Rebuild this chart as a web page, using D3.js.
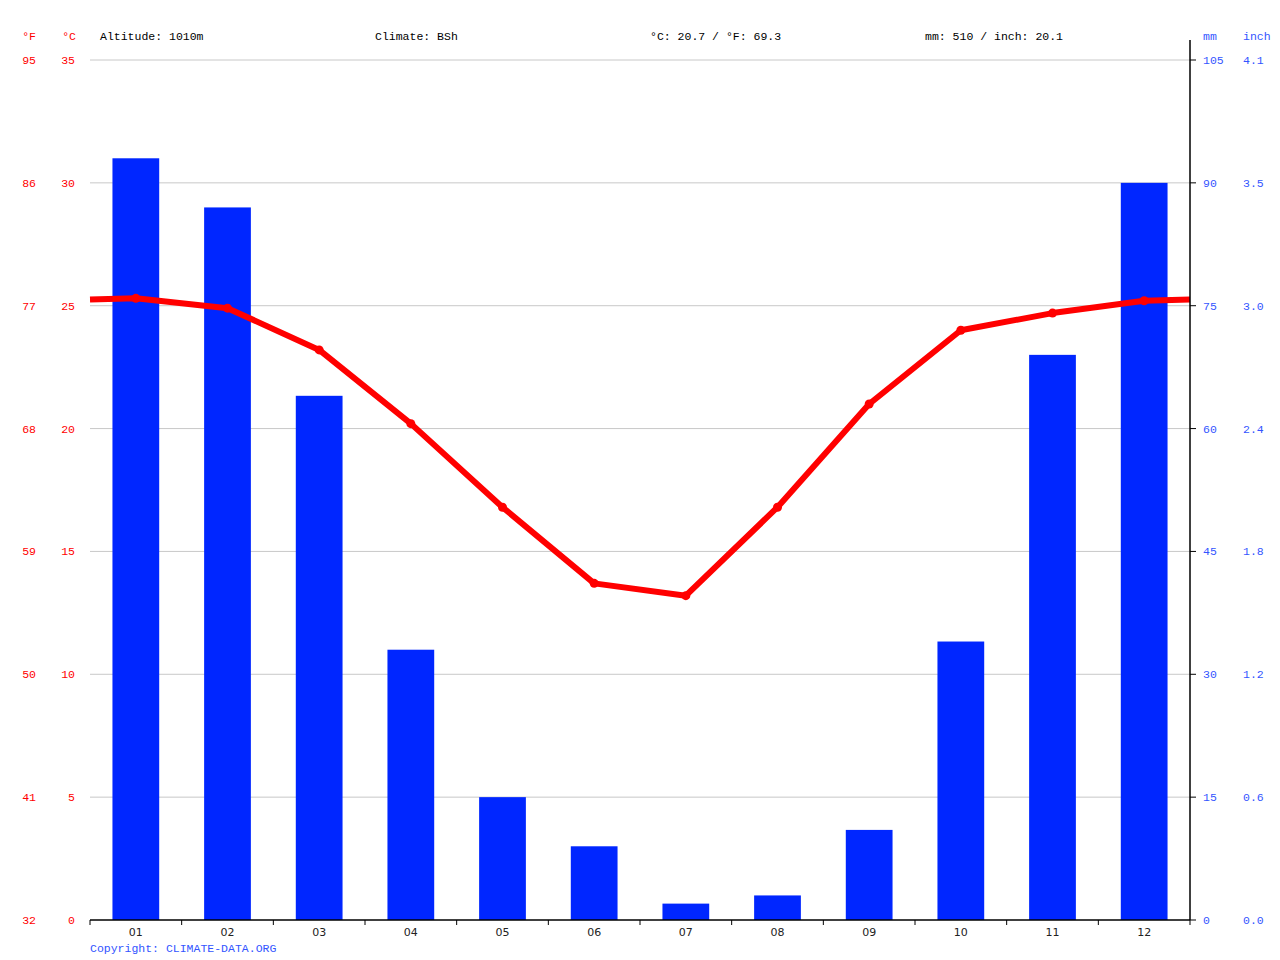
<!DOCTYPE html>
<html>
<head>
<meta charset="utf-8">
<script src="https://cdn.jsdelivr.net/npm/d3@7"></script>
<style>
  body { margin: 0; background: #fff; }
  text { font-family: "Liberation Mono", "DejaVu Sans Mono", monospace; }
</style>
</head>
<body>
<script>
// chart data
var months = ["01", "02", "03", "04", "05", "06", "07", "08", "09", "10", "11", "12"];
var precipMm = [93, 87, 64, 33, 15, 9, 2, 3, 11, 34, 69, 90];
var tempC = [25.3, 24.9, 23.2, 20.2, 16.8, 13.7, 13.2, 16.8, 21.0, 24.0, 24.7, 25.2];
var celsiusTicks = [0, 5, 10, 15, 20, 25, 30, 35];
var fahrenheitTicks = ["32", "41", "50", "59", "68", "77", "86", "95"];
var mmTicks = [0, 15, 30, 45, 60, 75, 90, 105];
var inchTicks = ["0.0", "0.6", "1.2", "1.8", "2.4", "3.0", "3.5", "4.1"];
var headerTexts = ["Altitude: 1010m", "Climate: BSh", "°C: 20.7 / °F: 69.3", "mm: 510 / inch: 20.1"];

var margin = { top: 60, right: 90, bottom: 40, left: 90 };
var width = 1280 - margin.left - margin.right;
var height = 960 - margin.top - margin.bottom;

var red = "#ff0000", blue = "#0026ff", textBlue = "#3355ff";

var svg = d3.select("body").append("svg")
    .attr("width", 1280)
    .attr("height", 960);

var g = svg.append("g")
    .attr("transform", "translate(" + margin.left + "," + margin.top + ")");

// scales
var x = d3.scaleBand().domain(months).range([0, width]).paddingInner(0.49).paddingOuter(0.245);
var xc = d3.scaleBand().domain(months).range([0, width]);
var yT = d3.scaleLinear().domain([0, 35]).range([height, 0]);
var yP = d3.scaleLinear().domain([0, 105]).range([height, 0]);

// gridlines
g.append("g")
  .selectAll("line")
  .data(celsiusTicks.slice(1))
  .enter()
  .append("line")
  .attr("x1", 0)
  .attr("x2", width)
  .attr("y1", function(d) { return yT(d); })
  .attr("y2", function(d) { return yT(d); })
  .attr("stroke", "#c8c8c8")
  .attr("stroke-width", 1);

// bars
g.append("g")
  .selectAll("rect")
  .data(precipMm)
  .enter()
  .append("rect")
  .attr("x", function(d, i) { return x(months[i]); })
  .attr("width", x.bandwidth())
  .attr("y", function(d) { return yP(d); })
  .attr("height", function(d) { return height - yP(d); })
  .attr("fill", blue);

// temperature line, wrapped to both edges
var edgeTemp = (tempC[0] + tempC[11]) / 2;
var linePts = [[0, edgeTemp]];
tempC.forEach(function(t, i) {
  linePts.push([xc(months[i]) + xc.bandwidth() / 2, t]);
});
linePts.push([width, edgeTemp]);

var lineFunction = d3.line()
  .x(function(d) { return d[0]; })
  .y(function(d) { return yT(d[1]); });

g.append("path")
  .attr("d", lineFunction(linePts))
  .attr("fill", "none")
  .attr("stroke", red)
  .attr("stroke-width", 6)
  .attr("stroke-linejoin", "round");

g.append("g")
  .selectAll("circle")
  .data(tempC)
  .enter()
  .append("circle")
  .attr("cx", function(d, i) { return xc(months[i]) + xc.bandwidth() / 2; })
  .attr("cy", function(d) { return yT(d); })
  .attr("r", 4.5)
  .attr("fill", red);

// bottom axis
var bottom = g.append("g")
  .attr("transform", "translate(0," + height + ")");

bottom.append("line")
  .attr("x1", 0).attr("x2", width)
  .attr("stroke", "#000").attr("stroke-width", 1.5);

bottom.selectAll(".tk")
  .data(d3.range(months.length + 1))
  .enter()
  .append("line")
  .attr("x1", function(i) { return i * xc.bandwidth(); })
  .attr("x2", function(i) { return i * xc.bandwidth(); })
  .attr("y1", 0).attr("y2", 5)
  .attr("stroke", "#000");

bottom.selectAll(".lbl")
  .data(months)
  .enter()
  .append("text")
  .attr("x", function(d) { return xc(d) + xc.bandwidth() / 2; })
  .attr("y", 16)
  .attr("text-anchor", "middle")
  .style("font-family", "'DejaVu Sans', sans-serif")
  .style("font-size", "11px")
  .attr("fill", "#222")
  .text(function(d) { return d; });

// right axis line and ticks
g.append("line")
  .attr("x1", width).attr("x2", width)
  .attr("y1", -20).attr("y2", height)
  .attr("stroke", "#000").attr("stroke-width", 1.5);

g.append("g")
  .selectAll("line")
  .data(mmTicks)
  .enter()
  .append("line")
  .attr("x1", width).attr("x2", width + 6)
  .attr("y1", function(d) { return yP(d); })
  .attr("y2", function(d) { return yP(d); })
  .attr("stroke", "#000");

// axis labels
var fs = "11.5px";

g.append("g").selectAll("text")
  .data(fahrenheitTicks)
  .enter().append("text")
  .attr("x", -54).attr("y", function(d, i) { return yT(celsiusTicks[i]) + 4; })
  .attr("text-anchor", "end").attr("fill", red).style("font-size", fs)
  .text(function(d) { return d; });

g.append("g").selectAll("text")
  .data(celsiusTicks)
  .enter().append("text")
  .attr("x", -15).attr("y", function(d) { return yT(d) + 4; })
  .attr("text-anchor", "end").attr("fill", red).style("font-size", fs)
  .text(function(d) { return d; });

g.append("g").selectAll("text")
  .data(mmTicks)
  .enter().append("text")
  .attr("x", width + 13).attr("y", function(d) { return yP(d) + 4; })
  .attr("fill", textBlue).style("font-size", fs)
  .text(function(d) { return d; });

g.append("g").selectAll("text")
  .data(inchTicks)
  .enter().append("text")
  .attr("x", width + 53).attr("y", function(d, i) { return yP(mmTicks[i]) + 4; })
  .attr("fill", textBlue).style("font-size", fs)
  .text(function(d) { return d; });

// unit headers
svg.append("text").attr("x", 36).attr("y", 40).attr("text-anchor", "end")
  .attr("fill", red).style("font-size", fs).text("°F");
svg.append("text").attr("x", 76).attr("y", 40).attr("text-anchor", "end")
  .attr("fill", red).style("font-size", fs).text("°C");
svg.append("text").attr("x", 1203).attr("y", 40)
  .attr("fill", textBlue).style("font-size", fs).text("mm");
svg.append("text").attr("x", 1243).attr("y", 40)
  .attr("fill", textBlue).style("font-size", fs).text("inch");

// header info
svg.append("g").selectAll("text")
  .data(headerTexts)
  .enter().append("text")
  .attr("x", function(d, i) { return 100 + i * 275; })
  .attr("y", 40)
  .attr("fill", "#000").style("font-size", fs)
  .text(function(d) { return d; });

// copyright
svg.append("text").attr("x", 90).attr("y", 952)
  .attr("fill", textBlue).style("font-size", fs)
  .text("Copyright: CLIMATE-DATA.ORG");
</script>
</body>
</html>
